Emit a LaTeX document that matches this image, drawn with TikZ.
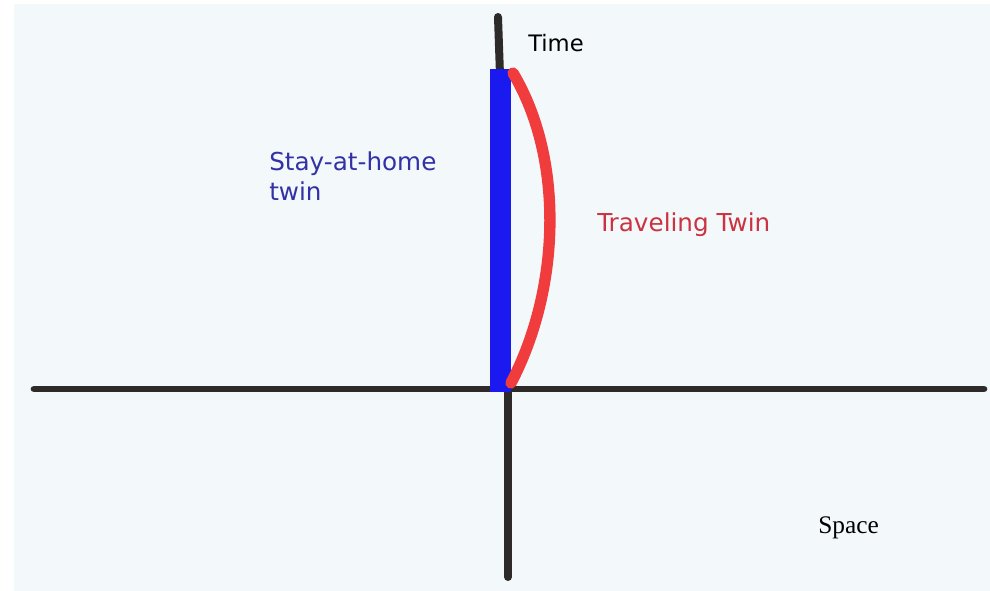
\documentclass[tikz,border=0pt]{standalone}
\usepackage{fontspec}
\usepackage{xcolor}
\usepackage{tikz}
\usetikzlibrary{positioning,calc}
\setmainfont{DejaVu Sans}
\newfontfamily\spacefont{Liberation Serif}
\definecolor{paper}{HTML}{F3F8FB}
\definecolor{axisink}{HTML}{2E2A2A}
\definecolor{homeblue}{HTML}{1A1AF0}
\definecolor{homelabel}{HTML}{3232A6}
\definecolor{travred}{HTML}{F03C3C}
\definecolor{travlabel}{HTML}{CC3340}
\tikzset{
  axis/.style={line width=5pt,draw=axisink,line cap=round},
  worldline/.style={line width=8.5pt,draw=travred,line cap=round},
  lbl/.style={inner sep=0pt,font=\fontsize{18.5}{23}\selectfont,align=left}
}
\begin{document}
\begin{tikzpicture}[x=0.75pt,y=-0.75pt]
  \useasboundingbox (0,0) rectangle (990,591);
  \fill[white] (0,0) rectangle (990,591);
  \fill[paper] (14,4) rectangle (990,591);
  % axes
  \coordinate (xL) at (34,389);
  \coordinate (xR) at (984,389);
  \coordinate (tTop) at (498,17);
  \coordinate (tMid) at (500,75);
  \coordinate (o) at (508,389);
  \coordinate (tBot) at (508,577);
  \draw[axis] (xL) -- (xR);
  \draw[axis,line width=6pt] (tTop) -- (tMid);
  \draw[axis,line width=6pt] (o) -- (tBot);
  % twins
  \fill[homeblue] (490,69) rectangle (511,392);
  \coordinate (trStart) at (513,73);
  \coordinate (trEnd) at (511,383);
  \draw[worldline] (trStart) .. controls (565,160) and (560,290) .. (trEnd);
  % labels
  \node[lbl,anchor=west,font=\fontsize{17}{23}\selectfont] (time) at (528,43) {Time};
  \node[lbl,anchor=north west,text=homelabel] (homelbl) at (269,151) {Stay-at-home\\twin};
  \node[lbl,anchor=west,text=travlabel] (travlbl) at (597,225) {Traveling Twin};
  \node[lbl,anchor=west,font=\spacefont\fontsize{19}{23}\selectfont] (spacelbl) at (818,528) {Space};
\end{tikzpicture}
\end{document}
